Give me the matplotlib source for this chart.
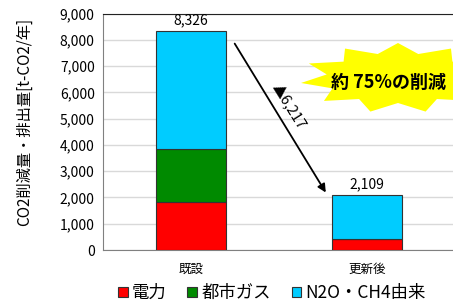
import numpy as np
import matplotlib
matplotlib.use("Agg")
import matplotlib.pyplot as plt
from matplotlib.patches import Polygon

plt.rcParams['font.family'] = ['Noto Sans CJK JP', 'DejaVu Sans']

# data
cats = ["既設", "更新後"]
denryoku = [1830, 410]      # 電力
toshigas = [2030, 0]        # 都市ガス
n2o_ch4 = [4466, 1699]      # N2O・CH4由来
totals = [8326, 2109]
reduction_label = "▲6,217"
callout = "約 75%の削減"

W, H = 453, 304
fig = plt.figure(figsize=(W / 100, H / 100), dpi=100)


def px(x, y):
    # pixel coords (top-left origin) -> figure fraction
    return x / W, 1 - y / H


ax = fig.add_axes([103 / W, 1 - 250 / H, (455 - 103) / W, (250 - 13.5) / H])

x = np.arange(len(cats))
bw = 0.40
ec = "#333333"
b1 = ax.bar(x, denryoku, bw, color="#FF0000", edgecolor=ec, linewidth=0.8, label="電力", zorder=3)
b2 = ax.bar(x, toshigas, bw, bottom=denryoku, color="#008A00", edgecolor=ec, linewidth=0.8,
            label="都市ガス", zorder=3)
bot2 = np.array(denryoku) + np.array(toshigas)
b3 = ax.bar(x, n2o_ch4, bw, bottom=bot2, color="#00CCFF", edgecolor=ec, linewidth=0.8,
            label="N2O・CH4由来", zorder=3)

for xi, t in zip(x, totals):
    ax.text(xi, t + 130, f"{t:,}", ha="center", va="bottom", fontsize=10)

ax.set_xlim(-0.5, 1.5)
ax.set_ylim(0, 9000)
ax.set_yticks(np.arange(0, 9001, 1000))
ax.set_yticklabels([f"{v:,}" for v in range(0, 9001, 1000)], fontsize=10)
ax.set_xticks(x)
ax.set_xticklabels(cats, fontsize=9)
ax.tick_params(axis="both", length=0, pad=6)
ax.tick_params(axis="x", pad=9)
ax.grid(axis="y", color="#D9D9D9", linewidth=1, zorder=0)
for s in ["left", "bottom"]:
    ax.spines[s].set_color("#808080")
ax.spines["top"].set_color("#222222")
ax.spines["right"].set_visible(False)

ax.set_ylabel("CO2削減量・排出量[t-CO2/年]", fontsize=11, labelpad=6)
ax.yaxis.set_label_coords(-0.20, 0.54)

# reduction arrow
ax.annotate("", xy=(0.774, 2098), xytext=(0.24, 7945),
            arrowprops=dict(arrowstyle="-|>", color="black", lw=1.3, mutation_scale=12),
            zorder=4)
ax.text(0.56, 5490, reduction_label, rotation=-58, ha="center", va="center",
        fontsize=10.5, rotation_mode="anchor")

# starburst callout
cx, cy = 398, 78
n = 11
ang = np.linspace(0, 2 * np.pi, 2 * n, endpoint=False) + np.pi / 2
rx = np.where(np.arange(2 * n) % 2 == 0, 98, 72)
ry = np.where(np.arange(2 * n) % 2 == 0, 35, 25)
pts = [px(cx + r1 * np.cos(a), cy - r2 * np.sin(a)) for a, r1, r2 in zip(ang, rx, ry)]
fig.patches.append(Polygon(pts, closed=True, transform=fig.transFigure,
                           facecolor="#FFFF00", edgecolor="none", zorder=5))
fig.text(*px(331, 82), callout, ha="left", va="center", fontsize=13, fontweight="bold", zorder=6)

fig.legend(handles=[b1, b2, b3], loc="center", bbox_to_anchor=px(272, 293), ncol=3,
           frameon=False, fontsize=12.5, handlelength=0.55, handleheight=0.55,
           handletextpad=0.25, columnspacing=1.2, borderaxespad=0)

fig.savefig("out.png", dpi=100)
